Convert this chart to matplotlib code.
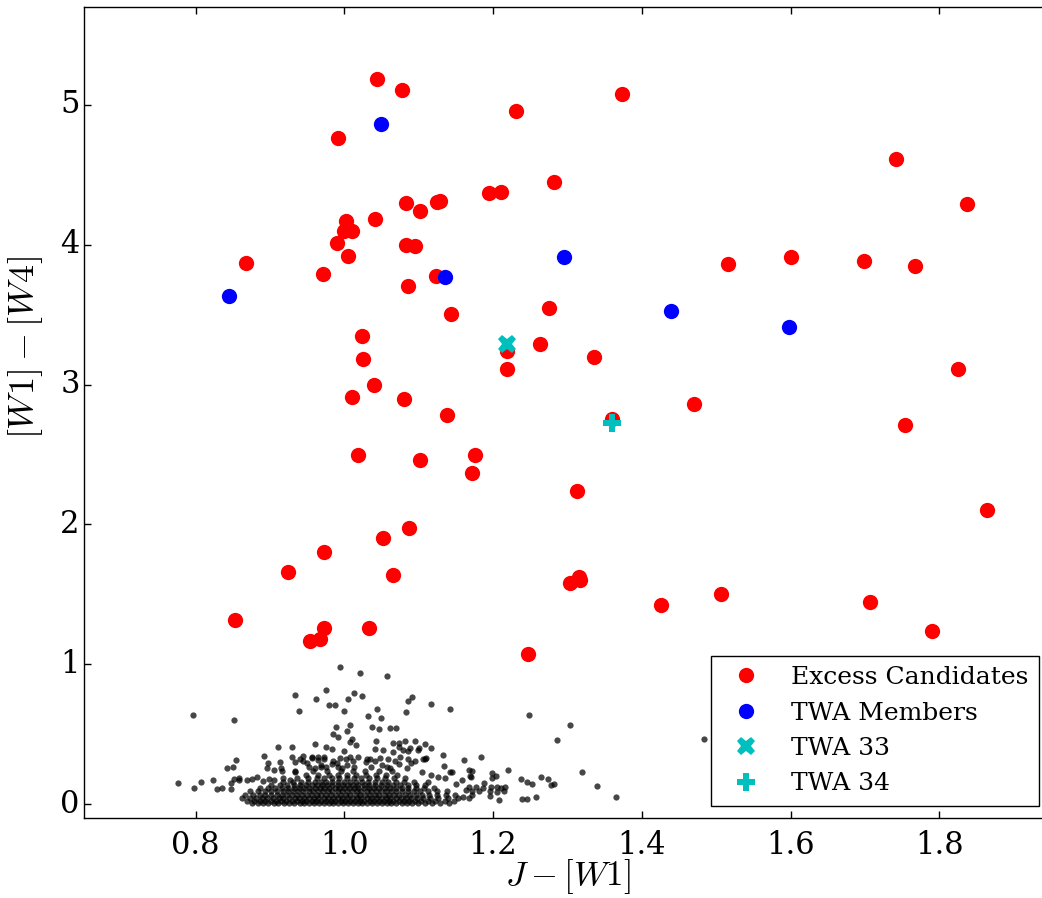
import numpy as np
import matplotlib
matplotlib.use('Agg')
import matplotlib.pyplot as plt

plt.style.use('classic')
plt.rcParams['font.family'] = 'DejaVu Serif'
plt.rcParams['mathtext.fontset'] = 'cm'

# excess candidates (J-W1, W1-W4)
cand_x = [1.0435, 1.0775, 1.2314, 0.992, 1.2824, 1.1947, 1.21, 1.0828, 1.1016, 1.124,
          1.1285, 1.0416, 1.0027, 1.0, 1.01, 0.9898, 1.0828, 1.0945, 0.868, 1.0046,
          0.971, 1.1231, 1.0851, 1.1432, 1.2752, 1.0238, 1.0255, 1.2627, 1.2193, 1.2193,
          1.0394, 1.0099, 1.0806, 1.1374, 1.3732, 1.741, 1.8368, 1.5154, 1.601, 1.699,
          1.7678, 1.3356, 1.8247, 1.4703, 1.3603, 1.754, 1.018, 1.102, 1.1758, 1.1718,
          1.3133, 1.8636, 1.0873, 1.0516, 0.9732, 0.9248, 1.0654, 1.304, 1.316, 1.317,
          0.8529, 0.9732, 0.9535, 0.9674, 1.0328, 1.2475, 1.4255, 1.507, 1.707, 1.7906]
cand_y = [5.186, 5.107, 4.957, 4.76, 4.445, 4.367, 4.374, 4.298, 4.241, 4.302,
          4.314, 4.183, 4.166, 4.1, 4.1, 4.009, 4.0, 3.993, 3.871, 3.916,
          3.788, 3.774, 3.705, 3.507, 3.548, 3.348, 3.181, 3.288, 3.243, 3.11,
          3.0, 2.909, 2.898, 2.783, 5.081, 4.612, 4.293, 3.864, 3.914, 3.881,
          3.848, 3.198, 3.112, 2.859, 2.755, 2.714, 2.498, 2.462, 2.498, 2.367,
          2.236, 2.1, 1.976, 1.9, 1.8, 1.662, 1.638, 1.578, 1.621, 1.60,
          1.316, 1.257, 1.167, 1.183, 1.262, 1.076, 1.424, 1.505, 1.445, 1.24]

# known TWA members
twa_x = [1.0497, 1.1348, 0.8452, 1.2953, 1.4385, 1.5983]
twa_y = [4.862, 3.767, 3.636, 3.914, 3.524, 3.412]

twa33_x, twa33_y = [1.2193], [3.29]
twa34_x, twa34_y = [1.3603], [2.724]

# field stars without excess: scattered ones
field_x = [0.776, 0.796, 0.798, 0.807, 0.823, 0.829, 0.836, 0.842, 0.850, 0.855,
           0.847, 0.848, 0.852, 0.859, 0.852, 0.933, 0.939, 0.911, 0.930, 0.892,
           0.898, 0.913, 0.929, 0.944, 0.934, 0.896, 0.915, 0.956, 0.964, 0.972,
           0.934, 0.994, 1.0215, 1.058, 0.976, 0.962, 1.013, 1.024, 1.005, 0.979,
           0.987, 1.0, 1.044, 1.032, 1.049, 1.0855, 1.091, 1.083, 1.117, 1.142,
           0.989, 0.985, 0.991, 1.008, 1.004, 1.037, 1.046, 1.061, 1.069, 1.010,
           1.007, 1.016, 0.960, 1.042, 1.065, 1.073, 1.081, 1.095, 1.108, 0.976,
           0.983, 0.999, 1.007, 1.041, 1.052, 1.066, 1.073, 1.079, 1.086, 1.099,
           1.116, 1.088, 1.100, 1.133, 1.134, 1.161, 1.142, 1.17, 1.248, 1.304,
           1.286, 1.184, 1.167, 1.171, 1.169, 1.145, 1.22, 1.198, 1.204, 1.198,
           1.1875, 1.237, 1.245, 1.252, 1.264, 1.274, 1.282, 1.278, 1.319, 1.339,
           1.239, 1.245, 1.257, 1.208, 1.196, 1.483, 1.365, 1.168, 1.177, 1.187,
           1.197, 1.205, 1.211, 1.216, 1.172, 1.181, 1.196, 1.205, 1.214, 1.160,
           1.168, 1.15, 1.158, 1.163, 1.172,
           0.859, 0.869, 0.876, 0.883, 0.891, 0.899, 0.905, 0.918, 0.927,
           0.906, 0.916, 0.934, 0.950, 0.952, 0.960, 0.969, 0.976, 0.983, 0.990,
           0.997, 1.004, 1.029, 1.035, 1.050, 1.061, 1.073, 1.084, 1.090, 1.108,
           1.104, 1.117, 1.126, 1.135, 1.113,
           0.940, 0.945, 0.956, 0.965, 0.973, 0.985, 0.994, 1.002, 1.012, 1.019,
           1.030, 1.041, 1.048, 1.059, 1.068, 1.075, 1.086, 1.095, 1.106, 1.110]
field_y = [0.152, 0.638, 0.114, 0.159, 0.169, 0.109, 0.116, 0.255, 0.262, 0.312,
           0.152, 0.105, 0.179, 0.174, 0.602, 0.781, 0.662, 0.407, 0.405, 0.341,
           0.293, 0.298, 0.338, 0.341, 0.302, 0.255, 0.255, 0.336, 0.336, 0.336,
           0.231, 0.983, 0.936, 0.914, 0.812, 0.748, 0.791, 0.771, 0.752, 0.707,
           0.707, 0.662, 0.681, 0.626, 0.617, 0.738, 0.764, 0.657, 0.712, 0.676,
           0.548, 0.5, 0.481, 0.562, 0.521, 0.55, 0.538, 0.545, 0.545, 0.466,
           0.445, 0.421, 0.429, 0.45, 0.438, 0.438, 0.448, 0.452, 0.426, 0.41,
           0.395, 0.381, 0.338, 0.39, 0.385, 0.37, 0.405, 0.385, 0.38, 0.385,
           0.40, 0.40, 0.40, 0.35, 0.274, 0.312, 0.226, 0.195, 0.638, 0.564,
           0.459, 0.338, 0.245, 0.238, 0.2, 0.229, 0.24, 0.219, 0.202, 0.183,
           0.152, 0.179, 0.157, 0.143, 0.19, 0.181, 0.143, 0.133, 0.229, 0.126,
           0.038, 0.036, 0.052, 0.029, 0.059, 0.462, 0.05, 0.12, 0.12, 0.118,
           0.122, 0.12, 0.115, 0.122, 0.09, 0.095, 0.09, 0.085, 0.095, 0.05,
           0.04, 0.14, 0.17, 0.10, 0.065,
           0.185, 0.172, 0.178, 0.19, 0.168, 0.182, 0.175, 0.188, 0.17,
           0.243, 0.236, 0.236, 0.29, 0.262, 0.255, 0.279, 0.267, 0.284, 0.29,
           0.255, 0.279, 0.302, 0.321, 0.279, 0.26, 0.283, 0.255, 0.29, 0.321,
           0.231, 0.207, 0.195, 0.183, 0.159,
           0.32, 0.31, 0.33, 0.315, 0.325, 0.31, 0.33, 0.32, 0.305, 0.335,
           0.32, 0.31, 0.33, 0.325, 0.31, 0.335, 0.32, 0.31, 0.325, 0.33]

# dense core of the field stars, read as rows (W1-W4 level, J-W1 values)
core_rows = [
    (0.005, [0.876, 0.884, 0.890, 0.898, 0.905, 0.911, 0.919, 0.925, 0.932, 0.940,
             0.946, 0.953, 0.959, 0.966, 0.972, 0.979, 0.985, 0.992, 0.998, 1.005,
             1.011, 1.018, 1.024, 1.031, 1.037, 1.044, 1.050, 1.057, 1.063, 1.070,
             1.077, 1.084, 1.091, 1.099, 1.108, 1.118, 1.129, 1.141]),
    (0.025, [0.869, 0.878, 0.886, 0.893, 0.901, 0.908, 0.915, 0.922, 0.929, 0.936,
             0.943, 0.949, 0.956, 0.962, 0.969, 0.975, 0.982, 0.988, 0.995, 1.001,
             1.008, 1.014, 1.021, 1.027, 1.034, 1.040, 1.047, 1.053, 1.060, 1.066,
             1.073, 1.080, 1.087, 1.095, 1.103, 1.112, 1.122, 1.135, 1.148]),
    (0.045, [0.862, 0.873, 0.881, 0.889, 0.896, 0.904, 0.912, 0.918, 0.926, 0.933,
             0.939, 0.946, 0.952, 0.959, 0.965, 0.972, 0.978, 0.985, 0.991, 0.997,
             1.004, 1.010, 1.017, 1.023, 1.030, 1.036, 1.043, 1.049, 1.056, 1.062,
             1.069, 1.076, 1.083, 1.090, 1.098, 1.106, 1.115, 1.126, 1.139, 1.153]),
    (0.067, [0.866, 0.877, 0.886, 0.894, 0.902, 0.909, 0.916, 0.923, 0.930, 0.937,
             0.943, 0.950, 0.956, 0.963, 0.969, 0.976, 0.982, 0.989, 0.995, 1.002,
             1.008, 1.015, 1.021, 1.028, 1.034, 1.041, 1.047, 1.054, 1.060, 1.067,
             1.074, 1.081, 1.088, 1.096, 1.105, 1.114, 1.125, 1.137, 1.149]),
    (0.09, [0.873, 0.884, 0.893, 0.901, 0.909, 0.917, 0.924, 0.931, 0.938, 0.945,
            0.952, 0.958, 0.965, 0.971, 0.978, 0.984, 0.991, 0.997, 1.004, 1.010,
            1.017, 1.023, 1.030, 1.036, 1.043, 1.049, 1.056, 1.063, 1.070, 1.077,
            1.085, 1.093, 1.102, 1.112, 1.124, 1.138]),
    (0.113, [0.887, 0.898, 0.907, 0.916, 0.924, 0.932, 0.939, 0.946, 0.953, 0.960,
             0.967, 0.973, 0.980, 0.987, 0.993, 1.000, 1.006, 1.013, 1.019, 1.026,
             1.033, 1.040, 1.047, 1.054, 1.061, 1.069, 1.077, 1.086, 1.096, 1.107,
             1.121]),
    (0.137, [0.902, 0.913, 0.923, 0.932, 0.940, 0.948, 0.956, 0.963, 0.970, 0.977,
             0.984, 0.991, 0.998, 1.005, 1.012, 1.019, 1.026, 1.033, 1.041, 1.049,
             1.057, 1.066, 1.075, 1.085, 1.096, 1.109]),
    (0.16, [0.918, 0.931, 0.942, 0.951, 0.960, 0.968, 0.976, 0.984, 0.992, 1.000,
            1.008, 1.016, 1.024, 1.032, 1.041, 1.050, 1.059, 1.069, 1.080, 1.093]),
    (0.185, [0.936, 0.951, 0.963, 0.973, 0.983, 0.993, 1.003, 1.013, 1.023, 1.033,
             1.044, 1.055, 1.067, 1.081]),
    (0.21, [0.948, 0.965, 0.979, 0.992, 1.004, 1.016, 1.029, 1.042, 1.056, 1.071]),
    (0.235, [0.958, 0.977, 0.995, 1.011, 1.028, 1.046, 1.064]),
    (0.265, [0.968, 0.991, 1.013, 1.036, 1.058]),
]

core_x = []
core_y = []
for yv, xs in core_rows:
    core_x += xs
    core_y += [yv] * len(xs)

fig = plt.figure(figsize=(10.42, 8.98), dpi=100)
ax = fig.add_axes([84/1042., 80/898., (1051-84)/1042., (818-7)/898.])

# background stars first, then the marked groups on top
ax.plot(core_x + field_x, core_y + field_y, 'o', color='k', ms=4.5, mec='none', alpha=0.72)
ax.plot(cand_x, cand_y, 'o', color='r', ms=11, mec='r', mew=0, label='Excess Candidates')
ax.plot(twa_x, twa_y, 'o', color='b', ms=11, mec='b', mew=0, label='TWA Members')
ax.plot(twa33_x, twa33_y, 'X', color='c', ms=13, mec='c', mew=0, label='TWA 33')
ax.plot(twa34_x, twa34_y, 'P', color='c', ms=13, mec='c', mew=0, label='TWA 34')

ax.set_xlim(0.65, 1.95)
ax.set_ylim(-0.1, 5.7)
ax.set_xticks([0.8, 1.0, 1.2, 1.4, 1.6, 1.8])
ax.set_yticks([0, 1, 2, 3, 4, 5])
ax.tick_params(labelsize=22, length=5, width=1)
ax.tick_params(axis='x', pad=9)
ax.tick_params(axis='y', pad=3)

ax.set_xlabel(r'$J-[W1]$', fontsize=25, labelpad=-3)
ax.set_ylabel(r'$[W1]-[W4]$', fontsize=26)
ax.yaxis.set_label_coords(-0.040, 0.58)

ax.legend(loc='lower right', numpoints=1, fontsize=18, borderaxespad=0.5)

fig.savefig('out.png', dpi=100)
